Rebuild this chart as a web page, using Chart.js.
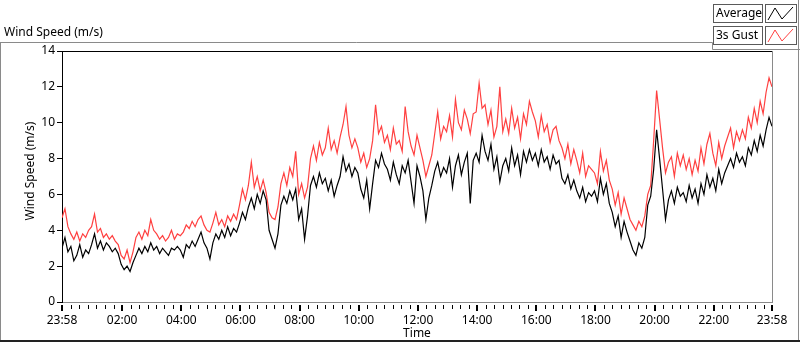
<!DOCTYPE html>
<html>
<head>
<meta charset="utf-8">
<script src="https://cdn.jsdelivr.net/npm/chart.js@4.4.0/dist/chart.umd.min.js"></script>
<style>
  html, body { margin: 0; padding: 0; background: #fff; }
  #wrap { width: 800px; height: 342px; }
</style>
</head>
<body>
<div id="wrap"><canvas id="windChart" width="800" height="342"></canvas></div>
<script>
// one reading every 6 minutes, starting 23:58
const sampleMinutes = 6;

const averageSpeed = [
  3.0, 3.6, 2.8, 3.1, 2.3, 2.6, 3.2, 2.5, 2.9, 2.7,
  3.2, 3.8, 3.0, 3.4, 2.9, 3.3, 3.1, 2.8, 3.0, 2.7,
  2.1, 1.8, 2.0, 1.7, 2.2, 2.6, 3.0, 2.7, 3.1, 2.8,
  3.3, 2.9, 3.1, 2.7, 3.0, 2.8, 2.6, 3.0, 2.9, 3.1,
  2.9, 2.5, 3.2, 3.0, 3.4, 3.1, 3.5, 3.9, 3.3, 3.0,
  2.4, 3.3, 3.8, 3.5, 4.0, 3.6, 4.2, 3.7, 4.1, 3.9,
  4.4, 5.0, 4.6, 5.3, 5.8, 5.2, 6.0, 5.5, 6.2, 5.7,
  4.0, 3.5, 3.0, 3.8, 5.4, 5.9, 5.5, 6.2, 5.7, 6.3,
  4.6, 5.2, 3.5, 4.8, 6.5, 7.0, 6.4, 7.2, 6.6, 6.9,
  6.2, 6.8, 5.9, 6.5, 7.0, 8.1, 7.3, 7.7, 7.0, 7.5,
  7.2, 6.3, 5.8, 6.8, 5.2, 6.6, 7.9, 7.5, 8.3, 7.7,
  7.4, 6.8, 7.8, 7.1, 6.6, 7.6, 7.2, 7.9, 6.7, 5.5,
  7.6, 7.0, 6.2, 4.6, 5.8, 6.5, 7.3, 7.8, 7.0, 7.5,
  7.2, 8.0, 6.4, 7.6, 8.2, 7.1, 7.8, 8.3, 5.5, 7.9,
  8.3, 7.8, 9.3, 8.4, 7.9, 8.8, 7.4, 8.1, 6.7, 7.6,
  8.0, 7.3, 8.6, 7.6, 8.2, 7.1, 8.4, 7.8, 8.5, 7.9,
  8.3, 7.6, 8.5, 7.8, 8.1, 7.4, 8.2, 7.7, 7.9, 6.9,
  6.6, 7.1, 6.3, 6.8, 6.2, 5.8, 6.4, 5.6, 6.1, 5.9,
  6.2, 5.6, 6.9, 6.0, 6.6, 5.5, 5.0, 4.2, 4.8, 3.6,
  4.5, 3.9, 3.4, 2.9, 2.6, 3.3, 3.0, 3.6, 5.4, 5.9,
  7.4, 9.6, 8.0, 6.3, 4.6, 5.7, 6.2, 5.5, 6.4, 5.9,
  6.1, 5.6, 6.5, 5.8, 6.3, 5.5, 6.6, 6.0, 7.1, 6.4,
  6.9, 6.2, 7.4, 6.6, 7.2, 7.6, 8.0, 7.5, 8.3, 7.8,
  8.1, 7.6, 8.6, 8.2, 9.0, 8.4, 9.3, 8.7, 9.6, 10.3, 9.8
];

const gustSpeed = [
  4.7, 5.2, 4.2, 3.8, 3.5, 3.9, 3.4, 3.8, 3.6, 4.0,
  4.2, 4.9, 3.9, 4.1, 3.6, 3.8, 3.5, 3.7, 3.4, 3.2,
  2.6, 2.4, 2.9, 2.2, 2.8, 3.6, 3.9, 3.5, 4.0, 3.7,
  4.6, 4.0, 3.8, 3.5, 3.7, 3.4, 3.6, 4.0, 3.5, 3.8,
  3.7, 3.9, 4.3, 4.1, 4.5, 4.2, 4.6, 4.8, 4.3, 4.0,
  3.9, 4.4, 5.0, 4.3, 4.6, 4.2, 4.8, 4.5, 4.9, 4.6,
  5.4, 6.3, 5.7, 6.5, 7.8, 6.4, 7.0, 6.2, 6.8, 6.1,
  5.0, 4.7, 4.6, 5.3, 6.6, 7.2, 6.5, 7.5, 7.0, 8.4,
  6.0, 6.6, 5.8, 6.4, 8.0, 8.7, 7.9, 8.9, 8.2, 8.6,
  9.7, 8.5, 9.0, 8.3, 9.2, 9.9, 10.9, 9.3, 8.6, 9.1,
  8.6, 7.8, 8.3, 7.5, 8.0, 9.0, 11.0, 9.4, 9.8, 8.9,
  9.3, 8.5, 9.7, 8.8, 9.0, 8.4, 10.9, 9.5, 8.7, 8.2,
  9.3, 8.6, 7.9, 7.0, 7.6, 8.2, 9.4, 10.6, 9.1, 9.8,
  9.5, 10.4, 9.2, 11.3, 10.0, 9.6, 10.7, 10.2, 9.4, 10.5,
  10.6, 12.2, 10.8, 11.0, 9.9, 10.7, 9.2, 9.8, 12.0, 9.5,
  10.2, 9.4, 10.8, 9.7, 10.3, 9.1, 10.5, 9.9, 11.2, 10.6,
  10.1, 9.2, 10.4, 9.5, 9.9, 8.9, 9.6, 9.8, 9.0, 8.6,
  8.0, 8.8, 7.7, 8.5, 7.9, 7.2, 8.3, 7.0, 7.6, 7.4,
  7.2, 6.6, 8.4, 7.3, 7.9, 6.8, 6.3, 5.4, 6.1, 4.9,
  5.8, 5.2, 4.6, 4.3, 4.0, 4.5, 4.2, 4.8, 6.0, 6.5,
  9.0, 11.8, 10.2, 8.6, 7.2, 7.8, 8.1, 7.0, 8.3, 7.6,
  8.2, 7.4, 8.0, 7.1, 7.9, 7.3, 8.6, 7.7, 8.8, 9.4,
  8.3, 7.6, 8.9, 8.0, 8.7, 9.2, 9.7, 8.6, 9.5, 9.0,
  9.6, 9.1, 10.3, 9.7, 10.8, 10.0, 11.2, 10.5, 11.7, 12.5, 12.0
];

// minutes after 23:58 for each time label
const tickMinutes = [0, 122, 242, 362, 482, 602, 722, 842, 962, 1082, 1202, 1322, 1440];
const tickLabels = ["23:58", "02:00", "04:00", "06:00", "08:00", "10:00", "12:00",
                    "14:00", "16:00", "18:00", "20:00", "22:00", "23:58"];
const seriesNames = ["Average", "3s Gust"];
const seriesColors = ["#000000", "#ff4040"];

const toPoints = (arr) => arr.map((v, i) => ({ x: i * sampleMinutes, y: v }));

Chart.defaults.font.family = "'Noto Sans', 'Liberation Sans', sans-serif";
Chart.defaults.font.size = 11;
Chart.defaults.color = "#000";

// frame, title, legend and minor ticks in LabVIEW style
const labviewFrame = {
    id: "labviewFrame",
    afterDraw(chart) {
        const c = chart.ctx;
        const area = chart.chartArea;
        const xs = chart.scales.x;
        c.save();

        // outer panel
        c.strokeStyle = "#8a8a8a";
        c.lineWidth = 1;
        c.beginPath();
        c.moveTo(0, 42.5); c.lineTo(712.5, 42.5); c.lineTo(712.5, 49.5); c.lineTo(800, 49.5);
        c.moveTo(0.5, 42.5); c.lineTo(0.5, 342);
        c.moveTo(798.5, 0); c.lineTo(798.5, 342);
        c.stroke();
        c.strokeStyle = "#222";
        c.lineWidth = 2;
        c.beginPath();
        c.moveTo(0, 341); c.lineTo(800, 341);
        c.stroke();

        // plot frame top (black) and right (gray)
        c.lineWidth = 1;
        c.strokeStyle = "#000";
        c.beginPath();
        c.moveTo(area.left, area.top + 0.5); c.lineTo(area.right, area.top + 0.5);
        c.stroke();
        c.strokeStyle = "#8a8a8a";
        c.beginPath();
        c.moveTo(area.right + 0.5, area.top); c.lineTo(area.right + 0.5, area.bottom + 1);
        c.stroke();

        // time axis ticks, 7 divisions between labels
        c.strokeStyle = "#000";
        for (let i = 0; i < tickMinutes.length; i++) {
            const px = Math.round(xs.getPixelForValue(tickMinutes[i]));
            c.lineWidth = 2;
            c.beginPath();
            c.moveTo(px, area.bottom + 3); c.lineTo(px, area.bottom + 9);
            c.stroke();
            if (i < tickMinutes.length - 1) {
                const step = (tickMinutes[i + 1] - tickMinutes[i]) / 7;
                c.lineWidth = 1;
                c.beginPath();
                for (let k = 1; k < 7; k++) {
                    const mx = Math.round(xs.getPixelForValue(tickMinutes[i] + k * step)) + 0.5;
                    c.moveTo(mx, area.bottom + 3); c.lineTo(mx, area.bottom + 7);
                }
                c.stroke();
            }
        }

        // texts
        c.fillStyle = "#000";
        c.font = "12px 'Noto Sans', sans-serif";
        c.textBaseline = "alphabetic";
        c.textAlign = "left";
        c.fillText("Wind Speed (m/s)", 4, 36);

        c.textAlign = "center";
        c.textBaseline = "middle";
        c.fillText("Time", 417, 334);

        c.save();
        c.translate(31, 171);
        c.rotate(-Math.PI / 2);
        c.fillText("Wind Speed (m/s)", 0, 0);
        c.restore();

        // legend boxes
        const rows = [4, 26];
        rows.forEach((top, i) => {
            c.fillStyle = "#fff";
            c.fillRect(713, top, 50, 19);
            c.fillRect(765, top, 32, 19);
            c.strokeStyle = "#5a5a5a";
            c.lineWidth = 1;
            c.strokeRect(713.5, top + 0.5, 49, 18);
            c.strokeRect(765.5, top + 0.5, 31, 18);
            c.fillStyle = "#000";
            c.textAlign = "left";
            c.textBaseline = "middle";
            c.fillText(seriesNames[i], 716, top + 10);
            c.strokeStyle = seriesColors[i];
            c.beginPath();
            c.moveTo(768, top + 16); c.lineTo(775, top + 4);
            c.lineTo(782, top + 15); c.lineTo(793, top + 3);
            c.stroke();
        });

        c.restore();
    }
};

const ctx = document.getElementById("windChart").getContext("2d");
new Chart(ctx, {
    type: "line",
    data: {
        datasets: [
            {
                label: seriesNames[0],
                data: toPoints(averageSpeed),
                borderColor: seriesColors[0],
                borderWidth: 1.2,
                pointRadius: 0,
                tension: 0,
                fill: false,
            },
            {
                label: seriesNames[1],
                data: toPoints(gustSpeed),
                borderColor: seriesColors[1],
                borderWidth: 1.2,
                pointRadius: 0,
                tension: 0,
                fill: false,
            },
        ],
    },
    options: {
        responsive: false,
        animation: false,
        layout: { padding: { top: 51, right: 28, bottom: 0, left: 0 } },
        plugins: {
            legend: { display: false },
            tooltip: { enabled: false },
        },
        scales: {
            x: {
                type: "linear",
                min: 0,
                max: 1440,
                afterBuildTicks: (scale) => {
                    scale.ticks = tickMinutes.map((v) => ({ value: v }));
                },
                afterFit: (scale) => {
                    scale.height = 40;
                    scale.paddingLeft = 0;
                    scale.paddingRight = 0;
                },
                grid: { display: false },
                border: { color: "#8a8a8a", width: 1 },
                ticks: {
                    autoSkip: false,
                    maxRotation: 0,
                    minRotation: 0,
                    padding: 3,
                    font: { size: 12 },
                    callback: (value) => tickLabels[tickMinutes.indexOf(value)],
                },
            },
            y: {
                min: 0,
                max: 14,
                afterFit: (scale) => {
                    scale.width = 62;
                    scale.paddingTop = 0;
                    scale.paddingBottom = 0;
                },
                grid: {
                    drawOnChartArea: false,
                    tickLength: 5,
                    tickColor: "#000",
                },
                border: { color: "#000", width: 1 },
                ticks: { stepSize: 2, padding: 2, font: { size: 12 } },
            },
        },
    },
    plugins: [labviewFrame],
});
</script>
</body>
</html>
